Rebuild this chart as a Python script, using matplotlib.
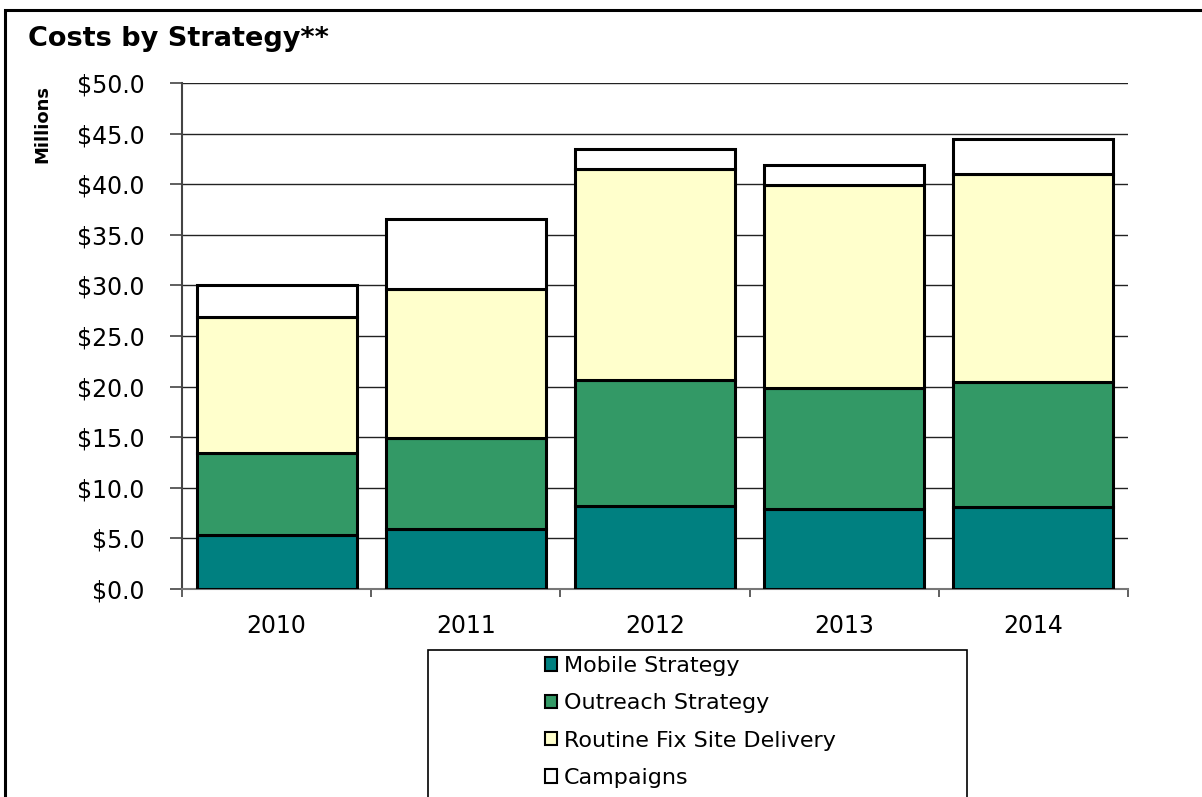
import matplotlib
matplotlib.use("Agg")
import matplotlib.pyplot as plt
from matplotlib.patches import Rectangle, Patch
import numpy as np

years = ["2010", "2011", "2012", "2013", "2014"]
mobile = [5.3, 5.9, 8.2, 7.9, 8.1]
outreach = [8.1, 9.0, 12.5, 12.0, 12.4]
routine = [13.5, 14.7, 20.8, 20.0, 20.5]
campaigns = [3.1, 7.0, 2.0, 2.0, 3.5]
series_names = ["Mobile Strategy", "Outreach Strategy", "Routine Fix Site Delivery", "Campaigns"]
colors = ["#008080", "#339966", "#FFFFCC", "#FFFFFF"]
yticks = np.arange(0, 50.1, 5)

plt.rcParams['font.family'] = ['DejaVu Sans']

fig = plt.figure(figsize=(12.02, 7.97), dpi=100)
ax = fig.add_axes([182/1202, 1-589/797, (1128-182)/1202, (589-83)/797])

x = np.arange(len(years))
bottom = np.zeros(len(years))
for vals, c, name in zip([mobile, outreach, routine, campaigns], colors, series_names):
    ax.bar(x, vals, width=0.845, bottom=bottom, color=c, edgecolor="black",
           linewidth=2.2, label=name, zorder=3)
    bottom += np.array(vals)

ax.set_xlim(-0.5, 4.5)
ax.set_ylim(0, 50)
ax.set_yticks(yticks)
ax.set_yticklabels([f"${v:.1f}" for v in yticks], fontsize=17)
ax.yaxis.grid(True, color="#222222", linewidth=1.0, zorder=0)
ax.set_xticks(x)
ax.set_xticklabels(years, fontsize=17)
ax.tick_params(axis="x", which="major", length=0, pad=18)
ax.set_xticks(np.arange(-0.5, 4.6, 1), minor=True)
ax.tick_params(axis="x", which="minor", length=6, color="#444444", width=1.2)
ax.tick_params(axis="y", length=9, color="#444444", width=1.2, pad=18)
for s in ["top", "right"]:
    ax.spines[s].set_visible(False)
ax.spines["left"].set_color("#444444")
ax.spines["left"].set_linewidth(1.5)
ax.spines["bottom"].set_color("#777777")
ax.spines["bottom"].set_linewidth(1.5)

fig.text(28/1202, 1-39/797, "Costs by Strategy**", fontsize=19.5, fontweight="bold",
         va="center", ha="left")
fig.text(42/1202, 1-124/797, "Millions", rotation=90, fontsize=13, fontweight="bold",
         va="center", ha="center")

# outer frame
fig.patches.append(Rectangle((5/1202, -0.2), 1.2, 1.2 - 10/797, transform=fig.transFigure,
                             fill=False, edgecolor="black", linewidth=2.2))
# legend box
fig.patches.append(Rectangle((428/1202, -0.2), (967-428)/1202, 0.2 + 1-650/797,
                             transform=fig.transFigure, fill=False, edgecolor="black",
                             linewidth=1.2))
handles = [Patch(facecolor=c, edgecolor="black", linewidth=1.5) for c in colors]
fig.legend(handles, series_names, loc="upper left", bbox_to_anchor=(536/1202, 1-647/797),
           frameon=False, fontsize=16, handlelength=0.55, handleheight=0.55,
           handletextpad=0.3, labelspacing=0.78, borderaxespad=0)

fig.savefig("out.png", dpi=100)
